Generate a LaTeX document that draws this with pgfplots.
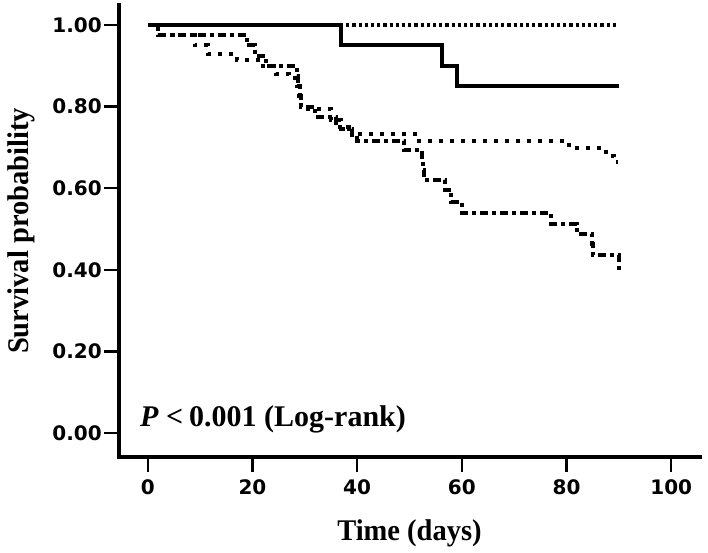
\documentclass[border=0pt]{standalone}
\usepackage{fontspec}
\usepackage{pgfplots}
\pgfplotsset{compat=1.18}
\newfontfamily\lab{Liberation Serif}[FakeStretch=0.95]
\newfontfamily\ptx{Liberation Serif}
\newfontfamily\tkf{DejaVu Sans}
\begin{document}
\begin{tikzpicture}
\begin{axis}[name=ax, scale only axis, width=581pt, height=452pt,
  xmin=-5.5, xmax=105.5, ymin=-0.059, ymax=1.049,
  axis lines*=left,
  axis line style={line width=4pt, line cap=rect},
  tick align=outside,
  major tick length=15pt,
  every tick/.style={line width=2.5pt, black},
  xtick={0,20,40,60,80,100},
  ytick={0,0.2,0.4,0.6,0.8,1},
  /pgf/number format/assume math mode=true,
  yticklabel style={/pgf/number format/fixed, /pgf/number format/fixed zerofill, /pgf/number format/precision=2, inner sep=2pt},
  ticklabel style={font=\tkf\bfseries\fontsize{20}{24}\selectfont},
  xticklabel style={inner sep=7pt},
  xlabel={Time (days)},
  ylabel={Survival probability},
  every axis x label/.style={at={(axis description cs:0.5,-0.184)}, anchor=base, font=\lab\bfseries\fontsize{30}{36}\selectfont},
  every axis y label/.style={at={(axis description cs:-0.155,0.5)}, anchor=base, rotate=90, font=\lab\bfseries\fontsize{30}{36}\selectfont},
  clip=false,
]
\addplot[const plot mark left, line width=3.5pt, dash pattern=on 3.2pt off 3pt] coordinates {(0,1)(90,1)};
\addplot[const plot mark left, line width=4pt] coordinates {(0,1)(37,0.95)(56.2,0.90)(59.1,0.85)(90,0.85)};
\addplot[const plot mark left, line width=4pt, dash pattern=on 4pt off 7pt] coordinates {
(0,1)(2,0.975)(9,0.95)(11.5,0.93)(17,0.915)(21.5,0.90)(24.5,0.88)(27,0.87)(28.5,0.85)(28.8,0.82)(29.2,0.794)(35,0.766)(37,0.745)(39,0.733)(51,0.716)(80.5,0.698)(87.5,0.68)(89,0.665)(89.8,0.665)};
\addplot[const plot mark left, line width=4pt, dash pattern=on 8pt off 4pt on 4pt off 4pt] coordinates {
(0,1)(2,0.975)(19,0.95)(20.5,0.925)(22.5,0.90)(28.5,0.875)(28.7,0.85)(29,0.825)(29.3,0.80)(32,0.775)(36,0.75)(38.5,0.73)(40,0.716)(49,0.694)(52.3,0.67)(52.5,0.645)(52.7,0.62)(56.8,0.595)(58,0.567)(60,0.54)(77,0.513)(82,0.487)(84.8,0.462)(85,0.436)(90,0.39)};
\node[anchor=base west, inner sep=0pt, font=\ptx\bfseries\fontsize{30}{36}\selectfont] at (axis cs:-1.5,0.017) {\textit{P}\hspace{0.25em}<\hspace{0.2em}0.001 (Log-rank)};
\end{axis}
\pgfresetboundingbox
\path[use as bounding box] ([shift={(-119pt,-95pt)}]ax.south west) rectangle ([shift={(8pt,5pt)}]ax.north east);
\end{tikzpicture}
\end{document}
